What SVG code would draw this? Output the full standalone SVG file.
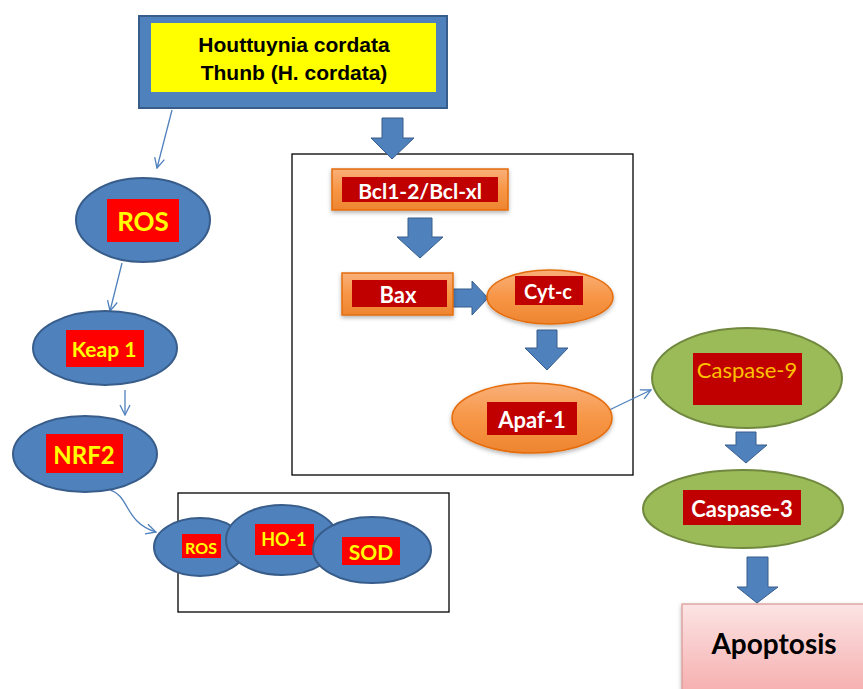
<svg xmlns="http://www.w3.org/2000/svg" width="863" height="689" viewBox="0 0 863 689">
<style>
.blue{fill:#4F81BD;stroke:#385D8A;stroke-width:2}
.lbl-red{fill:#FF0000}
.lbl-dred{fill:#C00000}
.ytxt{fill:#FFFF00;font-family:Lato,"Liberation Sans",sans-serif;font-weight:bold;text-anchor:middle;dominant-baseline:central}
.wtxt{fill:#FFFFFF;font-family:Lato,"Liberation Sans",sans-serif;font-weight:bold;text-anchor:middle;dominant-baseline:central}
.orange{fill:url(#og);stroke:#E46C0A;stroke-width:1.5}
.green{fill:#9BBB59;stroke:#71893F;stroke-width:2}
.frame{fill:none;stroke:#000;stroke-width:1.3}
.thin{fill:none;stroke:#4F81BD;stroke-width:1.3;marker-end:url(#open)}
.barrow{fill:#4F81BD;stroke:#385D8A;stroke-width:1}
</style>
<defs>
<linearGradient id="og" x1="0" y1="0" x2="0" y2="1">
<stop offset="0" stop-color="#F9B07A"/>
<stop offset="0.5" stop-color="#F79646"/>
<stop offset="1" stop-color="#EE8530"/>
</linearGradient>
<linearGradient id="pg" x1="0" y1="0" x2="0" y2="1">
<stop offset="0" stop-color="#FCE4E4"/>
<stop offset="1" stop-color="#F5A8A8"/>
</linearGradient>
<filter id="sh" x="-20%" y="-20%" width="140%" height="150%">
<feDropShadow dx="0" dy="2" stdDeviation="2" flood-color="#000" flood-opacity="0.3"/>
</filter>
<marker id="open" viewBox="0 0 12 12" refX="11" refY="6" markerWidth="12" markerHeight="12" markerUnits="userSpaceOnUse" orient="auto">
<path d="M1,1 L11,6 L1,11" fill="none" stroke="#4F81BD" stroke-width="1.3"/>
</marker>
</defs>
<rect width="863" height="689" fill="#FFFFFF"/>

<!-- frames -->
<rect class="frame" x="292" y="154" width="341" height="321"/>
<rect class="frame" x="178" y="493" width="271" height="119"/>

<g id="connectors">
<path class="thin" d="M172,110 L157,168"/>
<path class="thin" d="M122,263 L110,311"/>
<path class="thin" d="M125,390 L125,415"/>
<path class="thin" d="M110,490 C130,496 124,522 156,532"/>
<path class="thin" d="M603,413 L651,390"/>
<polygon class="barrow" points="382,118 403,118 403,138 414,138 392,159 371,138 382,138"/>
<polygon class="barrow" points="408,218 432,218 432,237 443,237 420,258 397,237 408,237"/>
<polygon class="barrow" points="453,289 472,289 472,281 488,298 472,315 472,307 453,307"/>
<polygon class="barrow" points="537,330 557,330 557,348 568,348 547,370 525,348 537,348"/>
<polygon class="barrow" points="736,432 756,432 756,445 767,445 746,463 725,445 736,445"/>
<polygon class="barrow" points="747,557 768,557 768,587 778,587 757,603 737,587 747,587"/>
</g>

<g id="source">
<rect x="139" y="16" width="308" height="92" fill="#4F81BD" stroke="#385D8A" stroke-width="2"/>
<rect x="151" y="23" width="285" height="69" fill="#FFFF00"/>
<text x="294" y="44" font-family="Liberation Sans,Arial,sans-serif" font-weight="bold" font-size="21" text-anchor="middle" dominant-baseline="central" fill="#000">Houttuynia cordata</text>
<text x="294" y="72" font-family="Liberation Sans,Arial,sans-serif" font-weight="bold" font-size="21" text-anchor="middle" dominant-baseline="central" fill="#000">Thunb (H. cordata)</text>
</g>

<g id="ros">
<ellipse class="blue" cx="143" cy="220" rx="67" ry="42"/>
<rect class="lbl-red" x="107" y="199" width="72" height="43"/>
<text class="ytxt" x="143" y="221" font-size="26">ROS</text>
</g>

<g id="keap1">
<ellipse class="blue" cx="105" cy="348" rx="72" ry="37"/>
<rect class="lbl-red" x="66" y="330" width="78" height="37"/>
<text class="ytxt" x="104" y="348" font-size="21">Keap 1</text>
</g>

<g id="nrf2">
<ellipse class="blue" cx="85" cy="454" rx="72" ry="38"/>
<rect class="lbl-red" x="46" y="434" width="77" height="39"/>
<text class="ytxt" x="84" y="454" font-size="24">NRF2</text>
</g>

<g id="ros2">
<ellipse class="blue" cx="200" cy="547" rx="46" ry="29"/>
<rect class="lbl-red" x="182" y="534" width="39" height="24"/>
<text class="ytxt" x="201" y="547" font-size="16">ROS</text>
</g>

<g id="ho1">
<ellipse class="blue" cx="282" cy="540" rx="56" ry="35"/>
<rect class="lbl-red" x="255" y="524" width="59" height="31"/>
<text class="ytxt" x="284" y="539" font-size="18">HO-1</text>
</g>

<g id="sod">
<ellipse class="blue" cx="372" cy="550" rx="59" ry="33"/>
<rect class="lbl-red" x="342" y="537" width="58" height="28"/>
<text class="ytxt" x="371" y="551" font-size="21">SOD</text>
</g>

<g id="bcl">
<rect class="orange" x="332" y="169" width="176" height="41" filter="url(#sh)"/>
<rect class="lbl-dred" x="342" y="177" width="156" height="25"/>
<text class="wtxt" x="420" y="190" font-size="21">Bcl1-2/Bcl-xl</text>
</g>

<g id="bax">
<rect class="orange" x="342" y="273" width="111" height="42" filter="url(#sh)"/>
<rect class="lbl-dred" x="352" y="280" width="95" height="27"/>
<text class="wtxt" x="398" y="294" font-size="22">Bax</text>
</g>

<g id="cytc">
<ellipse class="orange" cx="550" cy="297" rx="63" ry="27" filter="url(#sh)"/>
<rect class="lbl-dred" x="515" y="276" width="68" height="29"/>
<text class="wtxt" x="548" y="291" font-size="20">Cyt-c</text>
</g>

<g id="apaf1">
<ellipse class="orange" cx="532" cy="418" rx="80" ry="35" filter="url(#sh)"/>
<rect class="lbl-dred" x="487" y="402" width="90" height="33"/>
<text class="wtxt" x="532" y="419" font-size="22">Apaf-1</text>
</g>

<g id="casp9">
<ellipse class="green" cx="747" cy="378" rx="95" ry="50"/>
<rect class="lbl-dred" x="693" y="353" width="109" height="52"/>
<text x="747" y="369" font-family="Lato,'Liberation Sans',sans-serif" font-size="22" fill="#FFC000" text-anchor="middle" dominant-baseline="central">Caspase-9</text>
</g>

<g id="casp3">
<ellipse class="green" cx="743" cy="509" rx="100" ry="39"/>
<rect class="lbl-dred" x="683" y="490" width="118" height="35"/>
<text class="wtxt" x="742" y="508" font-size="22" fill="#FBEFEF">Caspase-3</text>
</g>

<g id="apoptosis">
<rect x="682" y="604" width="190" height="100" fill="url(#pg)" stroke="#D99594" stroke-width="1.2" filter="url(#sh)"/>
<text x="774" y="643" font-family="Lato,'Liberation Sans',sans-serif" font-weight="bold" font-size="28" fill="#000" text-anchor="middle" dominant-baseline="central">Apoptosis</text>
</g>
</svg>
